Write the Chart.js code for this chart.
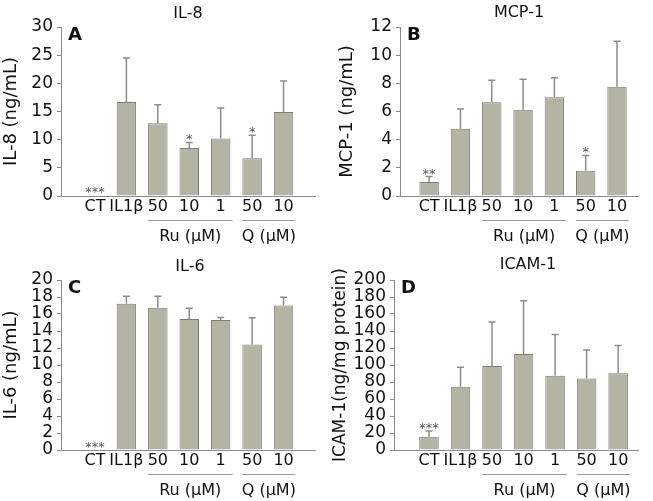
<!DOCTYPE html>
<html>
<head>
<meta charset="utf-8">
<script src="https://cdn.jsdelivr.net/npm/chart.js@4.4.1/dist/chart.umd.min.js"></script>
<style>
    body { margin: 0; background: #fff; }
    canvas { position: absolute; }
</style>
</head>
<body>
<canvas id="chartA" width="326" height="250" style="left:0;top:0"></canvas>
<canvas id="chartB" width="317" height="250" style="left:336px;top:0"></canvas>
<canvas id="chartC" width="326" height="251" style="left:0;top:250px"></canvas>
<canvas id="chartD" width="324" height="251" style="left:329px;top:250px"></canvas>
<script>
// Catégories communes aux 4 panneaux
const categories = ['CT', 'IL1β', '50', '10', '1', '50', '10'];
const groupLabels = ['Ru (μM)', 'Q (μM)'];
const groupStart = [2, 5];
const groupEnd = [4, 6];

// IL-8 (ng/mL)
const il8Values = [0.1, 16.7, 12.9, 8.5, 10.2, 6.7, 14.9];
const il8Errors = [null, 7.8, 3.3, 1.0, 5.4, 4.1, 5.5];
const il8Stars = ['***', '', '', '*', '', '*', ''];

// MCP-1 (ng/mL)
const mcp1Values = [1.0, 4.77, 6.66, 6.12, 7.02, 1.8, 7.75];
const mcp1Errors = [0.38, 1.4, 1.56, 2.17, 1.37, 1.08, 3.23];
const mcp1Stars = ['**', '', '', '', '', '*', ''];

// IL-6 (ng/mL)
const il6Values = [0.05, 17.2, 16.75, 15.4, 15.3, 12.4, 17.0];
const il6Errors = [null, 0.9, 1.35, 1.27, 0.3, 3.17, 0.96];
const il6Stars = ['***', '', '', '', '', '', ''];

// ICAM-1 (ng/mg protein)
const icamValues = [15.7, 74.5, 98.8, 113, 87.5, 84, 90.2];
const icamErrors = [6.7, 22.8, 51.8, 62.7, 48.5, 33.6, 32.8];
const icamStars = ['***', '', '', '', '', '', ''];

const FONT = '"DejaVu Sans", sans-serif';
const AXIS_GRAY = '#8c8c8c';
const TEXT = '#111';

function makePanel(id, p) {
    const canvas = document.getElementById(id);

    const decor = {
        id: 'decor',
        afterDatasetsDraw(chart) {
            const x = chart.scales.x, y = chart.scales.y, c = chart.ctx;
            c.save();
            p.values.forEach((v, i) => {
                const px = x.getPixelForValue(i);
                let top = y.getPixelForValue(v);
                const e = p.errors[i];
                if (e) {
                    // barre d'erreur : seulement la moitié haute
                    const ey = y.getPixelForValue(v + e);
                    c.strokeStyle = AXIS_GRAY;
                    c.lineWidth = 1.5;
                    c.beginPath();
                    c.moveTo(px, top); c.lineTo(px, ey);
                    c.moveTo(px - 3.5, ey); c.lineTo(px + 3.5, ey);
                    c.stroke();
                    top = ey;
                }
                if (p.stars[i]) {
                    c.fillStyle = '#555';
                    c.font = '13px ' + FONT;
                    c.textAlign = 'center';
                    c.textBaseline = 'alphabetic';
                    c.fillText(p.stars[i], px, top + 1);
                }
            });
            c.restore();
        },
        afterDraw(chart) {
            const a = chart.chartArea, c = chart.ctx;
            const bars = chart.getDatasetMeta(0).data;
            c.save();
            // groupes Ru / Q sous l'axe
            groupLabels.forEach((label, g) => {
                const b0 = bars[groupStart[g]], b1 = bars[groupEnd[g]];
                const x0 = b0.x - b0.width / 2, x1 = b1.x + b1.width / 2 + 2;
                c.strokeStyle = '#9a9a9a';
                c.lineWidth = 1;
                c.beginPath();
                c.moveTo(x0, a.bottom + 24.5); c.lineTo(x1, a.bottom + 24.5);
                c.stroke();
                c.fillStyle = TEXT;
                c.font = '16px ' + FONT;
                c.textAlign = 'center';
                c.textBaseline = 'middle';
                c.fillText(label, (x0 + x1) / 2, a.bottom + 41);
            });
            // titre du panneau
            c.font = '16px ' + FONT;
            c.fillText(p.title, (a.left + a.right) / 2 + p.titleDx, a.top - p.titleUp);
            // lettre du panneau
            c.font = 'bold 18px ' + FONT;
            c.textAlign = 'left';
            c.textBaseline = 'alphabetic';
            c.fillText(p.letter, a.left + 7, a.top + 13);
            c.restore();
        }
    };

    return new Chart(canvas.getContext('2d'), {
        type: 'bar',
        data: {
            datasets: [{
                data: p.values.map((v, i) => ({ x: i, y: v })),
                backgroundColor: '#b4b4a4',
                borderColor: '#7d7d74',
                borderWidth: 1,
                barPercentage: 0.62,
                categoryPercentage: 1
            }]
        },
        options: {
            responsive: false,
            animation: false,
            layout: { padding: { top: p.padTop, right: p.padRight, left: 0, bottom: 0 } },
            plugins: { legend: { display: false }, tooltip: { enabled: false } },
            scales: {
                x: {
                    type: 'linear',
                    offset: false,
                    min: p.xMin,
                    max: p.xMax,
                    grid: { display: false, drawTicks: false, offset: false },
                    border: { color: AXIS_GRAY },
                    afterBuildTicks: s => { s.ticks = categories.map((c, i) => ({ value: i })); },
                    ticks: {
                        callback: v => categories[v],
                        autoSkip: false,
                        maxRotation: 0,
                        padding: 1,
                        color: TEXT,
                        font: { family: FONT, size: 16 }
                    },
                    afterFit: s => { s.height = p.xHeight; }
                },
                y: {
                    min: 0,
                    max: p.max,
                    ticks: { stepSize: p.step, autoSkip: false, padding: 4, color: TEXT, font: { family: FONT, size: 17 } },
                    grid: { drawOnChartArea: false, color: AXIS_GRAY, tickLength: 4 },
                    border: { color: AXIS_GRAY },
                    title: { display: true, text: p.yTitle, color: TEXT, font: { family: FONT, size: p.yTitleSize }, padding: { top: 1, bottom: 0 } },
                    afterFit: s => { s.width = p.yWidth; }
                }
            }
        },
        plugins: [decor]
    });
}

makePanel('chartA', {
    title: 'IL-8', letter: 'A', yTitle: 'IL-8 (ng/mL)', yTitleSize: 18, max: 30, step: 5,
    values: il8Values, errors: il8Errors, stars: il8Stars,
    xMin: -1.08, xMax: 7.0, yWidth: 61, xHeight: 54, padTop: 27, padRight: 11, titleDx: 0, titleUp: 13
});
makePanel('chartB', {
    title: 'MCP-1', letter: 'B', yTitle: 'MCP-1 (ng/mL)', yTitleSize: 18, max: 12, step: 2,
    values: mcp1Values, errors: mcp1Errors, stars: mcp1Stars,
    xMin: -0.93, xMax: 6.67, yWidth: 64, xHeight: 54, padTop: 27, padRight: 15, titleDx: 0, titleUp: 14
});
makePanel('chartC', {
    title: 'IL-6', letter: 'C', yTitle: 'IL-6 (ng/mL)', yTitleSize: 18, max: 20, step: 2,
    values: il6Values, errors: il6Errors, stars: il6Stars,
    xMin: -1.08, xMax: 7.0, yWidth: 61, xHeight: 51, padTop: 30, padRight: 11, titleDx: 2, titleUp: 13
});
makePanel('chartD', {
    title: 'ICAM-1', letter: 'D', yTitle: 'ICAM-1(ng/mg protein)', yTitleSize: 17, max: 200, step: 20,
    values: icamValues, errors: icamErrors, stars: icamStars,
    xMin: -1.11, xMax: 6.63, yWidth: 65, xHeight: 51, padTop: 30, padRight: 15, titleDx: 12, titleUp: 15
});
</script>
</body>
</html>
